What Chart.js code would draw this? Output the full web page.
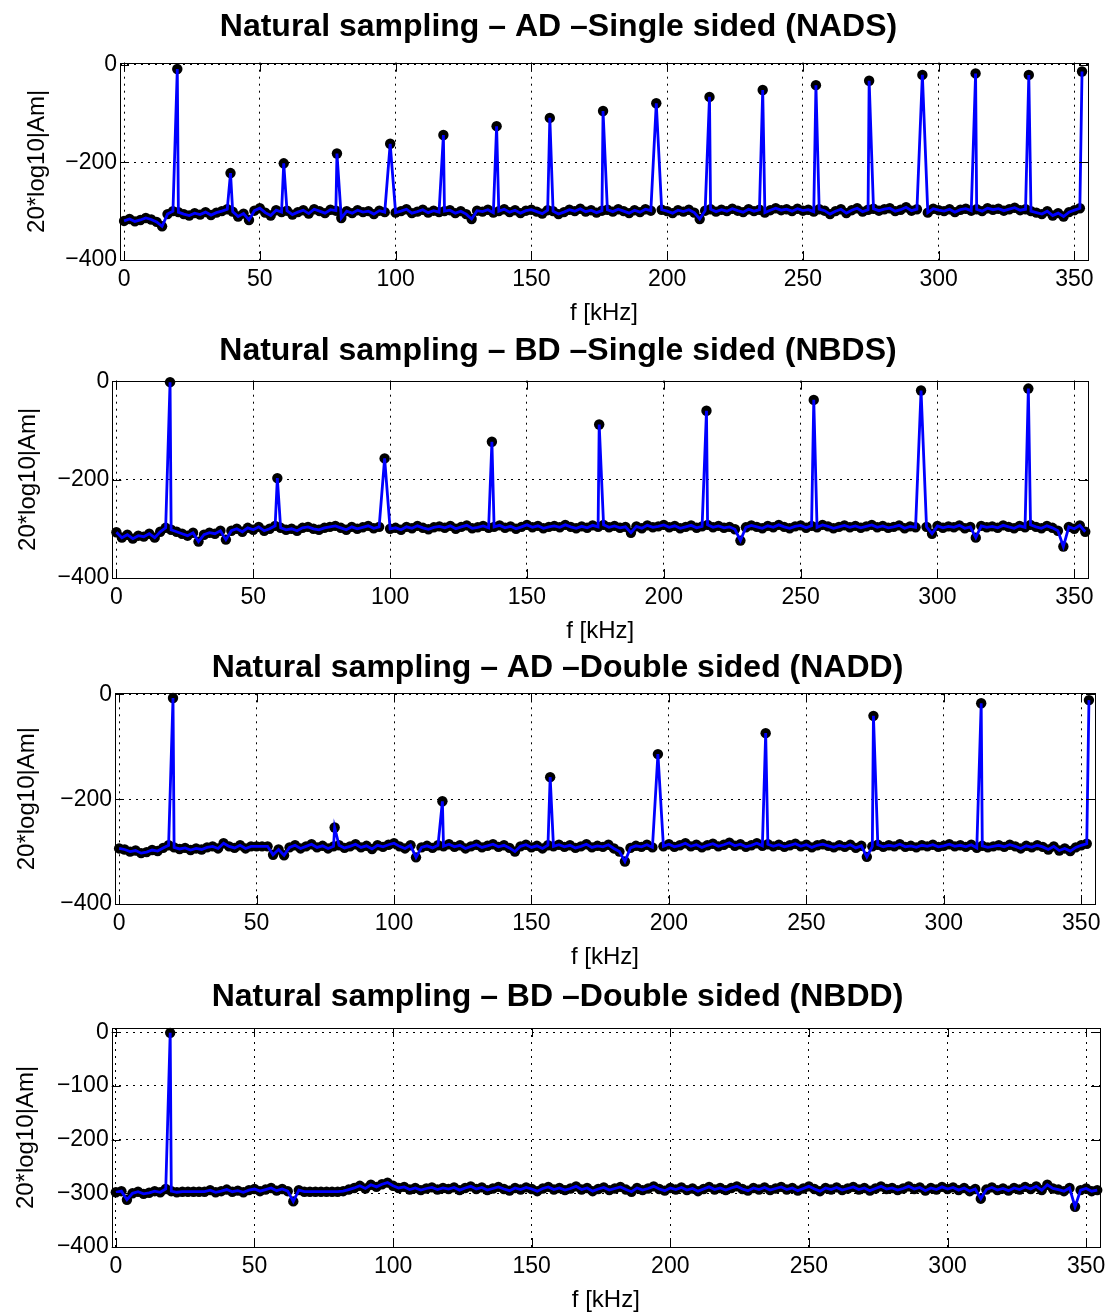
<!DOCTYPE html>
<html>
<head>
<meta charset="utf-8">
<script src="https://cdn.jsdelivr.net/npm/chart.js@4.4.1/dist/chart.umd.min.js"></script>
<style>
body{margin:0;background:#fff;overflow:hidden;}
#page{position:relative;width:1112px;height:1313px;}
canvas{position:absolute;left:0;}
</style>
</head>
<body>
<div id="page">
<canvas id="c1"></canvas>
<canvas id="c2"></canvas>
<canvas id="c3"></canvas>
<canvas id="c4"></canvas>
</div>
<script>
// tick labels
var xTicks=[0,50,100,150,200,250,300,350];
var yTicks=[-400,-200,0];
var yTicks4=[-400,-300,-200,-100,0];

// noise floor is read every 2 kHz, harmonics are listed separately
var floorStep=2;

var titles=[
  "Natural sampling \u2013 AD \u2013Single sided (NADS)",
  "Natural sampling \u2013 BD \u2013Single sided (NBDS)",
  "Natural sampling \u2013 AD \u2013Double sided (NADD)",
  "Natural sampling \u2013 BD \u2013Double sided (NBDD)"
];

// NADS
var floorNADS=[
-320,-316,-321,-318,-314,-317,-322,-331,-306,-300,
-302,-306,-309,-304,-307,-302,-308,-303,-300,-296,
-301,-311,-305,-318,-299,-294,-303,-309,-298,-302,
-299,-307,-302,-298,-305,-296,-300,-304,-297,-299,
-314,-300,-304,-298,-302,-300,-306,-299,-302,-298,
-303,-300,-296,-304,-301,-297,-303,-299,-302,-300,
-298,-304,-300,-306,-316,-299,-301,-297,-303,-300,
-296,-302,-298,-304,-299,-297,-301,-305,-298,-300,
-306,-302,-297,-300,-295,-301,-298,-303,-299,-297,
-301,-296,-300,-304,-298,-302,-296,-299,-303,-297,
-300,-304,-298,-301,-297,-303,-316,-299,-296,-301,
-297,-300,-295,-299,-302,-296,-300,-297,-303,-298,
-294,-298,-296,-300,-295,-299,-297,-301,-296,-299,
-306,-300,-296,-304,-298,-294,-301,-297,-295,-299,
-296,-294,-300,-297,-292,-299,-296,-301,-303,-295,
-298,-300,-296,-302,-297,-295,-299,-296,-300,-294,
-297,-295,-299,-296,-293,-298,-296,-300,-303,-306,
-300,-309,-304,-311,-302,-298,-294];
var peakFreqNADS=[19.6,39.2,58.8,78.4,98,117.6,137.2,156.8,176.4,196,215.6,235.2,254.8,274.4,294,313.6,333.2,352.8];
var peakValNADS=[-9,-222,-202,-182,-162,-144,-126,-109,-95,-79,-66,-52,-42,-33,-21,-18,-21,-14];

// NBDS
var floorNBDS=[
-307,-318,-312,-320,-314,-316,-310,-318,-306,-298,
-302,-306,-310,-314,-308,-326,-312,-308,-310,-304,
-322,-304,-300,-306,-298,-302,-296,-304,-300,-294,
-298,-302,-300,-304,-298,-296,-300,-302,-298,-296,
-294,-298,-302,-296,-300,-297,-294,-299,-296,-298,
-300,-298,-302,-296,-299,-294,-298,-301,-297,-295,
-298,-294,-300,-296,-293,-299,-297,-294,-298,-296,
-293,-298,-295,-300,-296,-292,-297,-294,-299,-296,
-294,-297,-292,-296,-299,-295,-298,-293,-296,-292,
-297,-294,-298,-296,-308,-295,-299,-293,-297,-295,
-292,-297,-294,-299,-296,-293,-298,-295,-292,-297,
-294,-298,-296,-301,-324,-297,-293,-296,-299,-294,
-297,-292,-296,-299,-295,-293,-298,-294,-297,-292,
-295,-299,-296,-293,-297,-294,-298,-295,-292,-297,
-294,-298,-296,-293,-299,-295,-297,-292,-296,-310,
-294,-298,-295,-297,-293,-299,-296,-318,-294,-297,
-295,-298,-293,-296,-299,-294,-297,-292,-296,-299,
-294,-298,-304,-336,-296,-300,-293,-306];
var peakFreqNBDS=[19.6,58.8,98,137.2,176.4,215.6,254.8,294,333.2];
var peakValNBDS=[-2,-197,-157,-123,-88,-60,-38,-19,-15];

// NADD
var floorNADD=[
-294,-296,-300,-298,-303,-301,-297,-299,-293,-288,
-292,-295,-293,-297,-294,-296,-292,-290,-294,-284,
-290,-293,-288,-294,-290,-290,-290,-290,-306,-296,
-307,-292,-288,-294,-290,-286,-292,-289,-294,-290,
-288,-293,-290,-286,-292,-289,-295,-288,-291,-287,
-284,-290,-294,-288,-311,-292,-289,-293,-288,-290,
-286,-291,-288,-294,-290,-287,-292,-289,-286,-291,
-288,-293,-300,-290,-287,-292,-289,-294,-288,-290,
-287,-291,-288,-293,-290,-286,-292,-289,-291,-287,
-294,-300,-319,-293,-289,-291,-287,-292,-288,-290,
-286,-291,-288,-284,-290,-287,-292,-288,-285,-290,
-287,-283,-289,-286,-291,-288,-284,-289,-286,-290,
-287,-291,-288,-285,-290,-287,-292,-288,-286,-289,
-292,-288,-291,-287,-293,-289,-310,-290,-287,-291,
-288,-290,-286,-291,-289,-292,-288,-290,-287,-291,
-289,-286,-290,-288,-291,-287,-293,-289,-292,-290,
-288,-291,-287,-290,-294,-289,-292,-288,-291,-296,
-290,-298,-294,-299,-292,-288,-285];
var peakFreqNADD=[19.6,78.4,117.6,156.8,196,235.2,274.4,313.6,352.8];
var peakValNADD=[-7,-254,-204,-158,-114,-74,-41,-17,-11];

// NBDD
var floorNBDD=[
-298,-296,-312,-300,-297,-301,-299,-296,-298,-292,
-296,-298,-297,-297,-297,-297,-297,-294,-298,-296,
-293,-297,-295,-298,-294,-292,-296,-293,-290,-295,
-292,-296,-315,-294,-297,-297,-297,-297,-297,-297,
-297,-296,-293,-290,-286,-291,-284,-288,-283,-280,
-286,-290,-288,-293,-290,-294,-291,-289,-293,-290,
-292,-289,-294,-290,-287,-292,-289,-294,-291,-288,
-292,-295,-290,-293,-289,-292,-296,-291,-288,-293,
-290,-294,-291,-287,-293,-290,-296,-292,-289,-294,
-291,-288,-293,-297,-290,-294,-291,-287,-292,-295,
-290,-293,-289,-294,-291,-296,-292,-288,-293,-290,
-294,-290,-287,-292,-295,-290,-293,-289,-294,-291,
-288,-293,-290,-295,-291,-287,-292,-296,-290,-293,
-289,-294,-291,-288,-293,-290,-295,-291,-287,-292,
-290,-294,-291,-287,-292,-289,-295,-290,-293,-288,
-292,-289,-294,-290,-296,-292,-310,-293,-289,-294,
-291,-295,-290,-293,-288,-292,-287,-294,-284,-291,
-293,-296,-290,-325,-294,-291,-296,-294];
var peakFreqNBDD=[19.6];
var peakValNBDD=[-1];

var fontFam="'Liberation Sans', Arial, Helvetica, sans-serif";

function buildSeries(floor,pf,pv){
  var pts=[];
  for(var i=0;i<floor.length;i++){
    var f=i*floorStep;
    var hit=false;
    for(var k=0;k<pf.length;k++){ if(Math.abs(pf[k]-f)<0.3) hit=true; }
    if(!hit) pts.push({x:f,y:floor[i]});
  }
  for(var k=0;k<pf.length;k++) pts.push({x:pf[k],y:pv[k]});
  pts.sort(function(a,b){return a.x-b.x;});
  return pts;
}

function minusLabel(v){ return v<0 ? "\u2212"+Math.abs(v) : ""+v; }

// axes box and inward tick marks like the original figure
var boxPlugin={
  id:'box',
  afterDraw:function(chart){
    var ctx=chart.ctx, a=chart.chartArea, sx=chart.scales.x, sy=chart.scales.y;
    ctx.save();
    ctx.strokeStyle='#000';
    ctx.lineWidth=1;
    ctx.strokeRect(Math.round(a.left)+0.5,Math.round(a.top)+0.5,Math.round(a.right-a.left),Math.round(a.bottom-a.top));
    ctx.beginPath();
    sx.ticks.forEach(function(t){
      var p=Math.round(sx.getPixelForValue(t.value))+0.5;
      ctx.moveTo(p,a.bottom); ctx.lineTo(p,a.bottom-9);
      ctx.moveTo(p,a.top); ctx.lineTo(p,a.top+9);
    });
    sy.ticks.forEach(function(t){
      var p=Math.round(sy.getPixelForValue(t.value))+0.5;
      ctx.moveTo(a.left,p); ctx.lineTo(a.left+9,p);
      ctx.moveTo(a.right,p); ctx.lineTo(a.right-9,p);
    });
    ctx.stroke();
    ctx.restore();
  }
};

function makeChart(id,o){
  var cv=document.getElementById(id);
  cv.width=1112; cv.height=o.h;
  cv.style.top=o.top+'px';
  var data=buildSeries(o.floor,o.pf,o.pv);
  new Chart(cv,{
    type:'scatter',
    data:{datasets:[
      {data:data,showLine:true,borderColor:'#0000ff',borderWidth:2.8,pointRadius:0,tension:0,clip:false,order:0},
      {data:data,showLine:false,backgroundColor:'#000',borderWidth:0,pointRadius:5.2,clip:false,order:1}
    ]},
    options:{
      responsive:false,
      animation:false,
      events:[],
      layout:{padding:{left:o.padL,right:o.padR,top:0,bottom:0}},
      plugins:{
        legend:{display:false},
        tooltip:{enabled:false},
        title:{display:true,text:o.title,color:'#000',
          font:{family:fontFam,size:32,weight:'bold',lineHeight:1.2},
          padding:{top:o.tpt,bottom:o.tpb}}
      },
      scales:{
        x:{type:'linear',min:-1.5,max:355,
          afterBuildTicks:function(s){ s.ticks=xTicks.map(function(v){return {value:v};}); },
          afterFit:function(s){ s.height=70; },
          ticks:{color:'#000',padding:6,maxRotation:0,autoSkip:false,font:{family:fontFam,size:23}},
          grid:{color:'#000',lineWidth:1,drawTicks:false},
          border:{display:false,dash:[2,5]},
          title:{display:true,text:'f [kHz]',color:'#000',font:{family:fontFam,size:24,lineHeight:1.2},padding:{top:0,bottom:1.8}}
        },
        y:{type:'linear',min:-400,max:o.ymax,
          afterBuildTicks:function(s){ s.ticks=o.yt.map(function(v){return {value:v};}); },
          afterFit:function(s){ s.width=o.yW; },
          ticks:{color:'#000',padding:3,callback:minusLabel,font:{family:fontFam,size:23}},
          grid:{color:'#000',lineWidth:1,drawTicks:false},
          border:{display:false,dash:[2,5]},
          title:{display:true,text:'20*log10|Am|',color:'#000',font:{family:fontFam,size:24,lineHeight:0.7},padding:{top:o.ypt,bottom:0}}
        }
      }
    },
    plugins:[boxPlugin]
  });
}

// title line box is 32*1.2 = 38.4 px high
makeChart('c1',{top:0,h:330,padL:29,padR:24,yW:91,ypt:0,tpt:8,tpb:16.3,ymax:4,yt:yTicks,title:titles[0],floor:floorNADS,pf:peakFreqNADS,pv:peakValNADS});
makeChart('c2',{top:332,h:316,padL:28,padR:24,yW:84.3,ypt:-7.9,tpt:0,tpb:10.3,ymax:1,yt:yTicks,title:titles[1],floor:floorNBDS,pf:peakFreqNBDS,pv:peakValNBDS});
makeChart('c3',{top:649,h:325,padL:20,padR:17,yW:95,ypt:-0.9,tpt:0,tpb:5.9,ymax:2,yt:yTicks,title:titles[2],floor:floorNADD,pf:peakFreqNADD,pv:peakValNADD});
makeChart('c4',{top:978,h:339,padL:15,padR:12,yW:96.7,ypt:2.6,tpt:0,tpb:11.6,ymax:8,yt:yTicks4,title:titles[3],floor:floorNBDD,pf:peakFreqNBDD,pv:peakValNBDD});
</script>
</body>
</html>
